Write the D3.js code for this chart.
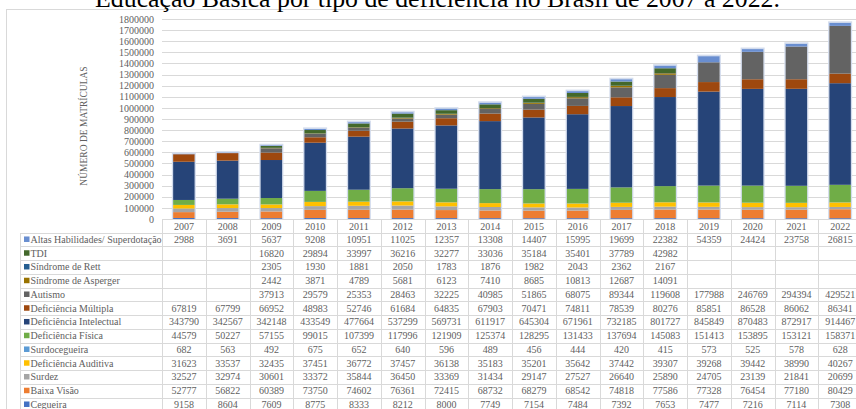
<!DOCTYPE html>
<html>
<head>
<meta charset="utf-8">
<script src="https://cdn.jsdelivr.net/npm/d3@7/dist/d3.min.js"></script>
<style>
  html, body { margin: 0; padding: 0; background: #fff; }
  svg { display: block; }
</style>
</head>
<body>
<svg id="chart" width="856" height="409"></svg>
<script>
// Matrículas na Educação Especial por tipo de deficiência, 2007–2022
const years = ["2007","2008","2009","2010","2011","2012","2013","2014","2015","2016","2017","2018","2019","2020","2021","2022"];

const yTicks = [0,100000,200000,300000,400000,500000,600000,700000,800000,900000,1000000,1100000,1200000,1300000,1400000,1500000,1600000,1700000,1800000];

// Series in stacking order (bottom to top)
const seriesNames = [
  "Cegueira", "Baixa Visão", "Surdez", "Deficiência Auditiva", "Surdocegueira",
  "Deficiência Física", "Deficiência Intelectual", "Deficiência Múltipla", "Autismo",
  "Síndrome de Asperger", "Síndrome de Rett", "TDI", "Altas Habilidades/ Superdotação"
];

const seriesColors = [
  "#4472C4", "#ED7D31", "#A5A5A5", "#FFC000", "#5B9BD5",
  "#70AD47", "#264478", "#9E480E", "#636363",
  "#997300", "#255E91", "#43682B", "#698ED0"
];

const cegueira      = [9158,8604,7609,8775,8333,8212,8000,7749,7154,7484,7392,7653,7477,7216,7114,7308];
const baixaVisao    = [52777,56822,60389,73750,74602,76361,72415,68732,68279,68542,74818,77586,77328,76454,77180,80429];
const surdez        = [32527,32974,30601,33372,35844,36450,33369,31434,29147,27527,26640,25890,24705,23139,21841,20699];
const defAuditiva   = [31623,33537,32435,37451,36772,37457,36138,35183,35201,35642,37442,39307,39268,39442,38990,40267];
const surdocegueira = [682,563,492,675,652,640,596,489,456,444,420,415,573,525,578,628];
const defFisica     = [44579,50227,57155,99015,107399,117996,121909,125374,128295,131433,137694,145083,151413,153895,153121,158371];
const defIntelectual= [343790,342567,342148,433549,477664,537299,569731,611917,645304,671961,732185,801727,845849,870483,872917,914467];
const defMultipla   = [67819,67799,66952,48983,52746,61684,64835,67903,70471,74811,78539,80276,85851,86528,86062,86341];
const autismo       = [null,null,37913,29579,25353,28463,32225,40985,51865,68075,89344,119608,177988,246769,294394,429521];
const asperger      = [null,null,2442,3871,4789,5681,6123,7410,8685,10813,12687,14091,null,null,null,null];
const rett          = [null,null,2305,1930,1881,2050,1783,1876,1982,2043,2362,2167,null,null,null,null];
const tdi           = [null,null,16820,29894,33997,36216,32277,33036,35184,35401,37789,42982,null,null,null,null];
const altasHab      = [2988,3691,5637,9208,10951,11025,12357,13308,14407,15995,19699,22382,54359,24424,23758,26815];

const seriesValues = [cegueira, baixaVisao, surdez, defAuditiva, surdocegueira, defFisica,
  defIntelectual, defMultipla, autismo, asperger, rett, tdi, altasHab];

const svg = d3.select("#chart");
const serif = "'Liberation Serif', 'DejaVu Serif', serif";
const textGray = "#606060";
const lineGray = "#D9D9D9";

// chart frame
svg.append("rect")
  .attr("x", 6.5).attr("y", 9.5)
  .attr("width", 900).attr("height", 500)
  .attr("fill", "none").attr("stroke", lineGray);

// title
svg.append("text")
  .attr("x", 437.5).attr("y", 6.5)
  .attr("text-anchor", "middle")
  .attr("font-family", serif)
  .attr("font-size", 25.8)
  .attr("fill", "#000")
  .text("Educação Básica por tipo de deficiência no Brasil de 2007 a 2022.");

// scales
const x = d3.scaleBand().domain(years).range([162, 162 + 43.75 * years.length]).paddingInner(0.51).paddingOuter(0.255);
const xCell = d3.scaleBand().domain(years).range([162, 162 + 43.75 * years.length]);
const y = d3.scaleLinear().domain([0, 1800000]).range([219, 19]);

// gridlines
svg.append("g")
  .selectAll("line").data(yTicks.slice(1)).join("line")
  .attr("x1", 162).attr("x2", 900)
  .attr("y1", d => Math.round(y(d)) + 0.5).attr("y2", d => Math.round(y(d)) + 0.5)
  .attr("stroke", lineGray).attr("stroke-width", 1);

// y axis labels
const yAxis = d3.axisLeft(y).tickValues(yTicks).tickSize(0).tickPadding(0).tickFormat(d3.format("d"));
const gy = svg.append("g").attr("transform", "translate(154,0)").call(yAxis);
gy.select(".domain").remove();
gy.selectAll("text")
  .attr("font-family", serif).attr("font-size", 10).attr("fill", textGray);

// y axis title
svg.append("text")
  .attr("transform", "translate(87,126) rotate(-90)")
  .attr("text-anchor", "middle")
  .attr("font-family", serif).attr("font-size", 9.5)
  .attr("fill", textGray)
  .text("NÚMERO DE MATRÍCULAS");

// stacked data
const rows = years.map((yr, i) => {
  const r = { year: yr };
  seriesNames.forEach((s, k) => { r[s] = seriesValues[k][i] || 0; });
  return r;
});
const stacked = d3.stack().keys(seriesNames)(rows);
const totals = rows.map(r => d3.sum(seriesNames, s => r[s]));

// soft outline round each column
svg.append("g")
  .selectAll("rect").data(years).join("rect")
  .attr("x", d => x(d) - 0.5)
  .attr("width", x.bandwidth() + 1)
  .attr("y", (d, i) => y(totals[i]) - 0.8)
  .attr("height", (d, i) => y(0) - y(totals[i]) + 0.8)
  .attr("fill", "none")
  .attr("stroke", "#d3dced").attr("stroke-width", 1.6);

svg.append("g")
  .selectAll("g").data(stacked).join("g")
  .attr("fill", (d, k) => seriesColors[k])
  .selectAll("rect").data(d => d).join("rect")
  .attr("x", d => x(d.data.year))
  .attr("width", x.bandwidth())
  .attr("y", d => y(d[1]))
  .attr("height", d => Math.max(0, y(d[0]) - y(d[1])));

// data table
const rowH = 13.75;
const headerTop = 219;
const firstRowTop = headerTop + 13.6;
const tableRows = seriesNames.map((s, k) => ({ name: s, color: seriesColors[k], values: seriesValues[k] })).reverse();
const nRows = tableRows.length;

const tbl = svg.append("g");

// horizontal lines
tbl.append("line")
  .attr("x1", 162).attr("x2", 900)
  .attr("y1", headerTop + 0.5).attr("y2", headerTop + 0.5)
  .attr("stroke", lineGray);
d3.range(nRows + 1).forEach(i => {
  const yy = Math.round(firstRowTop + i * rowH) + 0.5;
  tbl.append("line")
    .attr("x1", 20).attr("x2", 900)
    .attr("y1", yy).attr("y2", yy)
    .attr("stroke", lineGray);
});
// vertical lines
tbl.append("line")
  .attr("x1", 20.5).attr("x2", 20.5)
  .attr("y1", Math.round(firstRowTop) + 0.5).attr("y2", 420)
  .attr("stroke", lineGray);
years.forEach(yr => {
  const xx = Math.round(xCell(yr)) + 0.5;
  tbl.append("line")
    .attr("x1", xx).attr("x2", xx)
    .attr("y1", headerTop).attr("y2", 420)
    .attr("stroke", lineGray);
});

// header years
tbl.selectAll("text.yr").data(years).join("text")
  .attr("class", "yr")
  .attr("x", d => xCell(d) + xCell.bandwidth() / 2)
  .attr("y", headerTop + 10.5)
  .attr("text-anchor", "middle")
  .attr("font-family", serif).attr("font-size", 10)
  .attr("fill", textGray)
  .text(d => d);

// rows
tableRows.forEach((r, i) => {
  const cy = firstRowTop + i * rowH + rowH / 2;
  tbl.append("rect")
    .attr("x", 24).attr("y", cy - 3)
    .attr("width", 5.5).attr("height", 5.5)
    .attr("fill", r.color);
  tbl.append("text")
    .attr("x", 30.5).attr("y", cy + 3.5)
    .attr("font-family", serif).attr("font-size", 10)
    .attr("fill", textGray)
    .text(r.name);
  r.values.forEach((v, j) => {
    if (v == null) return;
    tbl.append("text")
      .attr("x", xCell(years[j]) + xCell.bandwidth() / 2)
      .attr("y", cy + 3.5)
      .attr("text-anchor", "middle")
      .attr("font-family", serif).attr("font-size", 10)
      .attr("fill", textGray)
      .text(v);
  });
});
</script>
</body>
</html>
